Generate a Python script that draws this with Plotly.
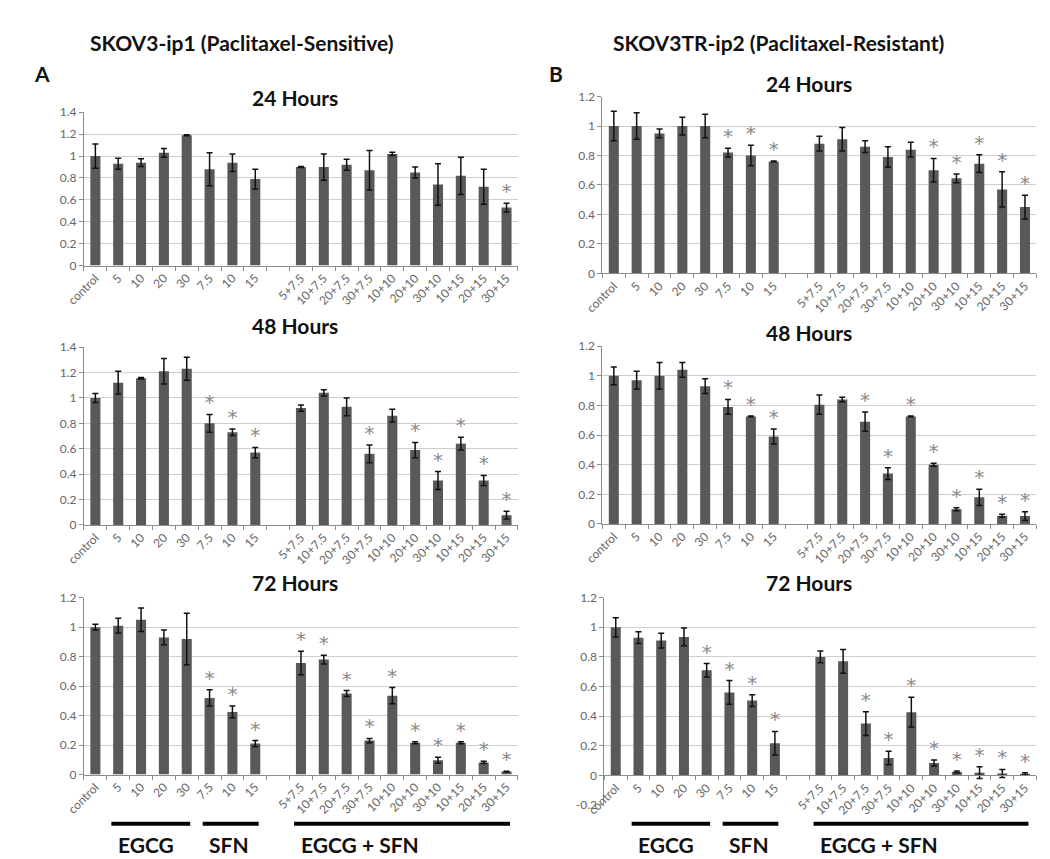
import plotly.graph_objects as go

# ---------------- data ----------------
categories = ["control", "5", "10", "20", "30", "7.5", "10", "15", "",
              "5+7.5", "10+7.5", "20+7.5", "30+7.5", "10+10", "20+10",
              "30+10", "10+15", "20+15", "30+15"]

a24_vals = [1.00, 0.93, 0.94, 1.03, 1.19, 0.88, 0.94, 0.79,
            0.90, 0.90, 0.92, 0.87, 1.02, 0.85, 0.74, 0.82, 0.72, 0.53]
a24_err = [0.11, 0.05, 0.035, 0.04, 0.005, 0.15, 0.08, 0.09,
           0.005, 0.12, 0.05, 0.18, 0.015, 0.05, 0.19, 0.17, 0.16, 0.04]
a24_sig = [0, 0, 0, 0, 0, 0, 0, 0, 0, 0, 0, 0, 0, 0, 0, 0, 0, 1]

a48_vals = [1.00, 1.12, 1.155, 1.21, 1.23, 0.80, 0.73, 0.57,
            0.92, 1.04, 0.93, 0.56, 0.86, 0.59, 0.35, 0.64, 0.35, 0.077]
a48_err = [0.035, 0.09, 0.005, 0.10, 0.09, 0.07, 0.025, 0.04,
           0.025, 0.025, 0.07, 0.07, 0.05, 0.06, 0.07, 0.05, 0.04, 0.03]
a48_sig = [0, 0, 0, 0, 0, 1, 1, 1, 0, 0, 0, 1, 0, 1, 1, 1, 1, 1]

a72_vals = [1.00, 1.01, 1.05, 0.93, 0.92, 0.52, 0.425, 0.21,
            0.757, 0.78, 0.55, 0.23, 0.535, 0.215, 0.097, 0.215, 0.082, 0.02]
a72_err = [0.02, 0.05, 0.08, 0.05, 0.175, 0.055, 0.04, 0.02,
           0.08, 0.03, 0.02, 0.015, 0.055, 0.007, 0.02, 0.007, 0.008, 0.003]
a72_sig = [0, 0, 0, 0, 0, 1, 1, 1, 1, 1, 1, 1, 1, 1, 1, 1, 1, 1]

b24_vals = [1.00, 1.00, 0.95, 1.00, 1.00, 0.82, 0.80, 0.76,
            0.88, 0.91, 0.86, 0.79, 0.84, 0.70, 0.645, 0.745, 0.57, 0.45]
b24_err = [0.10, 0.09, 0.03, 0.06, 0.08, 0.03, 0.07, 0.003,
           0.05, 0.08, 0.04, 0.07, 0.05, 0.08, 0.03, 0.06, 0.12, 0.08]
b24_sig = [0, 0, 0, 0, 0, 1, 1, 1, 0, 0, 0, 0, 0, 1, 1, 1, 1, 1]

b48_vals = [1.00, 0.97, 1.00, 1.04, 0.93, 0.79, 0.726, 0.59,
            0.805, 0.84, 0.69, 0.34, 0.726, 0.40, 0.10, 0.18, 0.055, 0.053]
b48_err = [0.06, 0.06, 0.09, 0.05, 0.05, 0.05, 0.003, 0.05,
           0.065, 0.015, 0.065, 0.04, 0.003, 0.01, 0.01, 0.055, 0.01, 0.03]
b48_sig = [0, 0, 0, 0, 0, 1, 1, 1, 0, 0, 1, 1, 1, 1, 1, 1, 1, 1]

b72_vals = [1.00, 0.93, 0.91, 0.935, 0.71, 0.56, 0.505, 0.217,
            0.80, 0.77, 0.35, 0.117, 0.427, 0.084, 0.024, 0.018, 0.013, 0.01]
b72_err = [0.065, 0.04, 0.05, 0.06, 0.045, 0.08, 0.04, 0.08,
           0.04, 0.08, 0.08, 0.045, 0.10, 0.02, 0.006, 0.04, 0.027, 0.008]
b72_sig = [0, 0, 0, 0, 1, 1, 1, 1, 0, 0, 1, 1, 1, 1, 1, 1, 1, 1]

y_ticks_14 = [0, 0.2, 0.4, 0.6, 0.8, 1, 1.2, 1.4]
y_ticks_12 = [0, 0.2, 0.4, 0.6, 0.8, 1, 1.2]
y_ticks_12n = [-0.2, 0, 0.2, 0.4, 0.6, 0.8, 1, 1.2]
y_ticktext_12n = ["-0.2", "0", "0.2", "0.4", "0.6", "0.8", "1", "1.2"]

groups = [("EGCG", 1, 4), ("SFN", 5, 7), ("EGCG + SFN", 9, 18)]

header_a = "SKOV3-ip1 (Paclitaxel-Sensitive)"
header_b = "SKOV3TR-ip2 (Paclitaxel-Resistant)"

# ---------------- layout geometry (pixels) ----------------
W, H = 1050, 859
FONT = "Lato"
BAR = "#595959"
GRID = "#cfcfcf"
AXC = "#8c8c8c"
TICKC = "#666666"

panels = [
    dict(v=a24_vals, e=a24_err, s=a24_sig, x=(58, 500), y=(98, 254), r=(0, 1.4),
         tv=y_ticks_14, tt=None, title="24 Hours", tx=273, ty=83),
    dict(v=b24_vals, e=b24_err, s=b24_sig, x=(586, 1028), y=(82, 262), r=(0, 1.2),
         tv=y_ticks_12, tt=None, title="24 Hours", tx=796, ty=69),
    dict(v=a48_vals, e=a48_err, s=a48_sig, x=(58, 500), y=(337, 518), r=(0, 1.4),
         tv=y_ticks_14, tt=None, title="48 Hours", tx=273, ty=315),
    dict(v=b48_vals, e=b48_err, s=b48_sig, x=(586, 1028), y=(336, 517), r=(0, 1.2),
         tv=y_ticks_12, tt=None, title="48 Hours", tx=796, ty=322),
    dict(v=a72_vals, e=a72_err, s=a72_sig, x=(58, 500), y=(592, 772), r=(0, 1.2),
         tv=y_ticks_12, tt=None, title="72 Hours", tx=273, ty=577),
    dict(v=b72_vals, e=b72_err, s=b72_sig, x=(588, 1028), y=(592, 803), r=(-0.2, 1.2),
         tv=y_ticks_12n, tt=y_ticktext_12n, title="72 Hours", tx=796, ty=577),
]

bar_x = [i for i, c in enumerate(categories) if c]
bar_labels = [c for c in categories if c]

fig = go.Figure()
annotations = []
shapes = []

for k, p in enumerate(panels):
    n = k + 1
    xa = "x" if n == 1 else f"x{n}"
    ya = "y" if n == 1 else f"y{n}"
    fig.add_trace(go.Bar(
        x=bar_x, y=p["v"], xaxis=xa, yaxis=ya,
        marker=dict(color=BAR, line=dict(width=0)), width=0.44,
        error_y=dict(type="data", array=p["e"], visible=True,
                     color="#111111", thickness=1.5, width=3),
        showlegend=False, hoverinfo="skip"))
    sx = [bar_x[i] for i in range(len(bar_x)) if p["s"][i]]
    sy = [p["v"][i] + p["e"][i] for i in range(len(bar_x)) if p["s"][i]]
    fig.add_trace(go.Scatter(
        x=sx, y=sy, xaxis=xa, yaxis=ya, mode="text", text=["*"] * len(sx),
        textposition="top center",
        textfont=dict(family="DejaVu Sans", size=20, color="#8a8a8a"),
        showlegend=False, hoverinfo="skip"))

    xd = [p["x"][0] / W, p["x"][1] / W]
    yd = [1 - p["y"][1] / H, 1 - p["y"][0] / H]
    xkey = "xaxis" if n == 1 else f"xaxis{n}"
    ykey = "yaxis" if n == 1 else f"yaxis{n}"
    xaxis = dict(domain=xd, range=[-0.5, len(categories) - 0.5],
                 tickmode="array", tickvals=bar_x, ticktext=bar_labels,
                 tickangle=-45, ticks="", showgrid=False, zeroline=False,
                 showline=True, linecolor=AXC, linewidth=1,
                 tickfont=dict(family=FONT, size=12, color=TICKC),
                 minor=dict(ticks="outside", tick0=-0.5, dtick=1, ticklen=4,
                            tickcolor=AXC, tickwidth=1, showgrid=False),
                 fixedrange=True)
    if p["r"][0] < 0:
        frac = (0 - p["r"][0]) / (p["r"][1] - p["r"][0])
        xaxis.update(anchor="free", position=yd[0] + frac * (yd[1] - yd[0]))
    else:
        xaxis.update(anchor=ya)
    yaxis = dict(domain=yd, range=list(p["r"]), anchor=xa,
                 tickmode="array", tickvals=p["tv"],
                 showgrid=True, gridcolor=GRID, gridwidth=1, zeroline=False,
                 showline=True, linecolor=AXC, linewidth=1,
                 ticks="outside", ticklen=4, tickcolor=AXC,
                 tickfont=dict(family=FONT, size=12, color=TICKC),
                 fixedrange=True)
    if p["tt"] is not None:
        yaxis.update(ticktext=p["tt"])
    fig.update_layout({xkey: xaxis, ykey: yaxis})

    annotations.append(dict(text="<b>" + p["title"] + "</b>", xref="paper", yref="paper",
                            x=p["tx"] / W, y=1 - p["ty"] / H, showarrow=False,
                            xanchor="center", yanchor="middle",
                            font=dict(family=FONT, size=21, color="#111111")))

# group bars and labels under the 72-hour panels
for xa_ref in ["x5", "x6"]:
    for name, g0, g1 in groups:
        shapes.append(dict(type="line", xref=xa_ref, yref="paper",
                           x0=g0 - 0.3, x1=g1 + 0.15,
                           y0=1 - 822 / H, y1=1 - 822 / H,
                           line=dict(color="black", width=4)))
        annotations.append(dict(text="<b>" + name + "</b>", xref=xa_ref, yref="paper",
                                x=g0 - 0.1, y=1 - 843 / H, showarrow=False,
                                xanchor="left", yanchor="middle",
                                font=dict(family=FONT, size=21, color="#111111")))

# headers and panel letters
annotations += [
    dict(text="<b>" + header_a + "</b>", xref="paper", yref="paper",
         x=62 / W, y=1 - 27 / H, xanchor="left", yanchor="middle", showarrow=False,
         font=dict(family=FONT, size=21, color="#111111")),
    dict(text="<b>" + header_b + "</b>", xref="paper", yref="paper",
         x=595 / W, y=1 - 27 / H, xanchor="left", yanchor="middle", showarrow=False,
         font=dict(family=FONT, size=21, color="#111111")),
    dict(text="<b>A</b>", xref="paper", yref="paper",
         x=5 / W, y=1 - 59 / H, xanchor="left", yanchor="middle", showarrow=False,
         font=dict(family=FONT, size=21, color="#111111")),
    dict(text="<b>B</b>", xref="paper", yref="paper",
         x=530 / W, y=1 - 59 / H, xanchor="left", yanchor="middle", showarrow=False,
         font=dict(family=FONT, size=21, color="#111111")),
]

fig.update_layout(
    width=W, height=H,
    margin=dict(l=0, r=0, t=0, b=0),
    paper_bgcolor="white", plot_bgcolor="white",
    bargap=0.5, showlegend=False,
    annotations=annotations, shapes=shapes,
    font=dict(family=FONT),
)

fig.write_html("out.html")
